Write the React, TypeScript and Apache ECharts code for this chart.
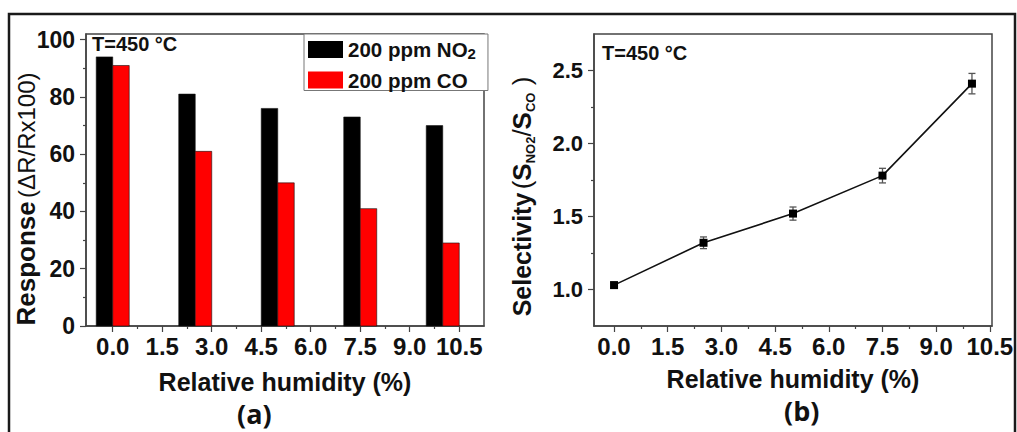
import React, { useEffect, useRef } from "react";
import * as echarts from "echarts";

// ---- data ----
const humidity = [0, 2.5, 5, 7.5, 10];
const no2Response = [94, 81, 76, 73, 70];
const coResponse = [91, 61, 50, 41, 29];
const selectivity = [1.03, 1.32, 1.52, 1.78, 2.41];
const selectivityErr = [0.02, 0.04, 0.045, 0.05, 0.07];

const xTickLabels = [0, 1.5, 3, 4.5, 6, 7.5, 9, 10.5];
const xMinorTicks = [0.75, 2.25, 3.75, 5.25, 6.75, 8.25, 9.75];
const leftYTicks = [0, 20, 40, 60, 80, 100];
const leftYMinor = [10, 30, 50, 70, 90];
const rightYTicks = [1.0, 1.5, 2.0, 2.5];
const rightYMinor = [1.25, 1.75, 2.25];

const FONT = '"Liberation Sans", Arial, sans-serif';
const AXIS_COLOR = "#444";

function mainX(gridIndex: number, min: number, max: number, nameGap: number) {
  return {
    type: "value",
    gridIndex,
    min,
    max,
    name: "Relative humidity (%)",
    nameLocation: "middle",
    nameGap,
    nameMoveOverlap: false,
    nameTextStyle: { fontFamily: FONT, fontWeight: "bold", fontSize: 25, color: "#111" },
    axisLine: { show: true, onZero: false, lineStyle: { color: AXIS_COLOR, width: 1.5 } },
    axisTick: { show: true, inside: false, length: 6, customValues: xTickLabels, lineStyle: { color: AXIS_COLOR, width: 1.2 } },
    axisLabel: {
      show: true,
      customValues: xTickLabels,
      margin: 8,
      formatter: (v: number) => v.toFixed(1),
      fontFamily: FONT,
      fontWeight: "bold",
      fontSize: 24,
      color: "#111",
    },
    splitLine: { show: false },
  };
}

function minorAxis(type: "x" | "y", gridIndex: number, min: number, max: number, ticks: number[]) {
  return {
    type: "value",
    gridIndex,
    min,
    max,
    position: type === "x" ? "bottom" : "left",
    axisLine: { show: false, onZero: false },
    axisTick: { show: true, inside: false, length: 3, customValues: ticks, lineStyle: { color: AXIS_COLOR, width: 1.2 } },
    axisLabel: { show: false },
    splitLine: { show: false },
  };
}

function barRender(offA: number, offB: number, color: string) {
  return (params: any, api: any) => {
    const x = api.value(0);
    const y = api.value(1);
    const p0 = api.coord([x + offA, y]);
    const p1 = api.coord([x + offB, 0]);
    return {
      type: "rect",
      shape: { x: p0[0], y: p0[1], width: p1[0] - p0[0], height: p1[1] - p0[1] },
      style: { fill: color, stroke: "#111", lineWidth: 0.6 },
    };
  };
}

export default function App() {
  const ref = useRef<HTMLDivElement>(null);

  useEffect(() => {
    document.body.style.margin = "0";
    if (!ref.current) return;
    const chart = echarts.init(ref.current, undefined, { renderer: "svg" });

    const option: any = {
      animation: false,
      backgroundColor: "#fff",
      grid: [
        { left: 86, top: 34, width: 398, height: 292, show: true, borderColor: AXIS_COLOR, borderWidth: 1.5, backgroundColor: "transparent" },
        { left: 594, top: 34, width: 398, height: 292, show: true, borderColor: AXIS_COLOR, borderWidth: 1.5, backgroundColor: "transparent" },
      ],
      xAxis: [
        mainX(0, -0.81, 11.25, 43),
        minorAxis("x", 0, -0.81, 11.25, xMinorTicks),
        mainX(1, -0.56, 10.56, 40),
        minorAxis("x", 1, -0.56, 10.56, xMinorTicks),
      ],
      yAxis: [
        {
          type: "value",
          gridIndex: 0,
          min: 0,
          max: 102,
          name: "{b|Response} {n|(ΔR/Rx100)}",
          nameLocation: "middle",
          nameGap: 47,
          nameMoveOverlap: false,
          nameRotate: 90,
          nameTextStyle: {
            padding: [0, 38, 0, 0],
            rich: {
              b: { fontFamily: FONT, fontWeight: "bold", fontSize: 26, color: "#111" },
              n: { fontFamily: FONT, fontWeight: "normal", fontSize: 24, color: "#111" },
            },
          },
          axisLine: { show: true, onZero: false, lineStyle: { color: AXIS_COLOR, width: 1.5 } },
          axisTick: { show: true, inside: false, length: 6, customValues: leftYTicks, lineStyle: { color: AXIS_COLOR, width: 1.2 } },
          axisLabel: {
            customValues: leftYTicks,
            margin: 11,
            fontFamily: FONT,
            fontWeight: "bold",
            fontSize: 23,
            color: "#111",
          },
          splitLine: { show: false },
        },
        minorAxis("y", 0, 0, 102, leftYMinor),
        {
          type: "value",
          gridIndex: 1,
          min: 0.75,
          max: 2.75,
          name: "{b|Selectivity} {n|(}{b2|S}{s|NO2}{n|/}{b2|S}{s|CO}{n| )}",
          nameLocation: "middle",
          nameGap: 57,
          nameMoveOverlap: false,
          nameRotate: 90,
          nameTextStyle: {
            padding: [0, 33, 0, 0],
            rich: {
              b: { fontFamily: FONT, fontWeight: "bold", fontSize: 25, color: "#111", lineHeight: 30, verticalAlign: "middle" },
              b2: { fontFamily: FONT, fontWeight: "bold", fontSize: 26, color: "#111", lineHeight: 30, verticalAlign: "middle" },
              n: { fontFamily: FONT, fontWeight: "normal", fontSize: 26, color: "#111", lineHeight: 30, verticalAlign: "middle" },
              s: { fontFamily: FONT, fontWeight: "bold", fontSize: 13, color: "#111", lineHeight: 13, verticalAlign: "bottom" },
            },
          },
          axisLine: { show: true, onZero: false, lineStyle: { color: AXIS_COLOR, width: 1.5 } },
          axisTick: { show: true, inside: false, length: 6, customValues: rightYTicks, lineStyle: { color: AXIS_COLOR, width: 1.2 } },
          axisLabel: {
            customValues: rightYTicks,
            margin: 11,
            formatter: (v: number) => v.toFixed(1),
            fontFamily: FONT,
            fontWeight: "bold",
            fontSize: 22,
            color: "#111",
          },
          splitLine: { show: false },
        },
        minorAxis("y", 1, 0.75, 2.75, rightYMinor),
      ],
      legend: {
        show: true,
        orient: "vertical",
        left: 304,
        top: 34,
        padding: [5, 12, 0, 4],
        itemWidth: 35,
        itemHeight: 17,
        itemGap: 9,
        borderColor: "#777",
        borderWidth: 1,
        backgroundColor: "#fff",
        selectedMode: false,
        data: [
          { name: "200 ppm NO2", icon: "rect" },
          { name: "200 ppm CO", icon: "rect" },
        ],
        formatter: (name: string) =>
          name === "200 ppm NO2" ? "{t|200 ppm NO}{s|2}" : "{t|200 ppm CO}",
        textStyle: {
          rich: {
            t: { fontFamily: FONT, fontWeight: "bold", fontSize: 20.5, color: "#111", lineHeight: 22, verticalAlign: "middle" },
            s: { fontFamily: FONT, fontWeight: "bold", fontSize: 15, color: "#111", lineHeight: 15, verticalAlign: "bottom" },
          },
        },
      },
      graphic: [
        {
          type: "rect",
          shape: { x: 9, y: 14, width: 1006, height: 440 },
          style: { fill: "none", stroke: "#1a1a1a", lineWidth: 2.5 },
          silent: true,
          z: 100,
        },
        {
          type: "text",
          left: 92,
          top: 34,
          style: { text: "T=450 °C", font: `bold 20px ${FONT}`, fill: "#111" },
          z: 100,
        },
        {
          type: "text",
          left: 602,
          top: 43,
          style: { text: "T=450 °C", font: `bold 20px ${FONT}`, fill: "#111" },
          z: 100,
        },
        {
          type: "text",
          left: 237,
          top: 400,
          style: { text: "(a)", font: `bold 27px "Open Sans", ${FONT}`, fill: "#111" },
          z: 100,
        },
        {
          type: "text",
          left: 784,
          top: 397,
          style: { text: "(b)", font: `bold 27px "Open Sans", ${FONT}`, fill: "#111" },
          z: 100,
        },
      ],
      series: [
        {
          name: "200 ppm NO2",
          type: "custom",
          xAxisIndex: 0,
          yAxisIndex: 0,
          itemStyle: { color: "#000" },
          renderItem: barRender(-0.5, 0, "#000"),
          encode: { x: 0, y: 1 },
          data: humidity.map((h, i) => [h, no2Response[i]]),
          z: 2,
        },
        {
          name: "200 ppm CO",
          type: "custom",
          xAxisIndex: 0,
          yAxisIndex: 0,
          itemStyle: { color: "#ff0000" },
          renderItem: barRender(0, 0.5, "#ff0000"),
          encode: { x: 0, y: 1 },
          data: humidity.map((h, i) => [h, coResponse[i]]),
          z: 2,
        },
        {
          name: "error",
          type: "custom",
          xAxisIndex: 2,
          yAxisIndex: 2,
          encode: { x: 0, y: 1 },
          data: humidity.map((h, i) => [h, selectivity[i], selectivityErr[i]]),
          renderItem: (params: any, api: any) => {
            const x = api.value(0);
            const y = api.value(1);
            const e = api.value(2);
            const top = api.coord([x, y + e]);
            const bot = api.coord([x, y - e]);
            const st = { stroke: "#555", lineWidth: 1.3 };
            return {
              type: "group",
              children: [
                { type: "line", shape: { x1: top[0], y1: top[1], x2: bot[0], y2: bot[1] }, style: st },
                { type: "line", shape: { x1: top[0] - 3.5, y1: top[1], x2: top[0] + 3.5, y2: top[1] }, style: st },
                { type: "line", shape: { x1: bot[0] - 3.5, y1: bot[1], x2: bot[0] + 3.5, y2: bot[1] }, style: st },
              ],
            };
          },
          z: 2,
        },
        {
          name: "Selectivity",
          type: "line",
          xAxisIndex: 2,
          yAxisIndex: 2,
          data: humidity.map((h, i) => [h, selectivity[i]]),
          symbol: "rect",
          symbolSize: 8,
          itemStyle: { color: "#000" },
          lineStyle: { color: "#111", width: 1.6 },
          z: 3,
        },
      ],
    };

    chart.setOption(option);
    return () => chart.dispose();
  }, []);

  return <div ref={ref} style={{ width: 1017, height: 432 }} />;
}
